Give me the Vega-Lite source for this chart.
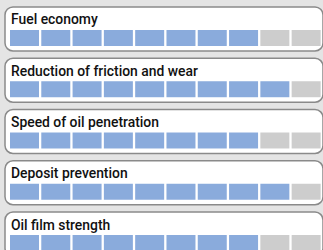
{
  "$schema": "https://vega.github.io/schema/vega-lite/v6.json",
  "width": 318,
  "height": 243,
  "autosize": {"type": "none"},
  "padding": {"left": 5, "top": 7, "right": 0, "bottom": 0},
  "background": "#e4e4e4",
  "datasets": {
    "metrics": [
      {"metric": "Fuel economy", "score": 8},
      {"metric": "Reduction of friction and wear", "score": 9},
      {"metric": "Speed of oil penetration", "score": 8},
      {"metric": "Deposit prevention", "score": 9},
      {"metric": "Oil film strength", "score": 8}
    ],
    "cells": [
      {"metric": "Fuel economy", "i": 1, "state": "on"},
      {"metric": "Fuel economy", "i": 2, "state": "on"},
      {"metric": "Fuel economy", "i": 3, "state": "on"},
      {"metric": "Fuel economy", "i": 4, "state": "on"},
      {"metric": "Fuel economy", "i": 5, "state": "on"},
      {"metric": "Fuel economy", "i": 6, "state": "on"},
      {"metric": "Fuel economy", "i": 7, "state": "on"},
      {"metric": "Fuel economy", "i": 8, "state": "on"},
      {"metric": "Fuel economy", "i": 9, "state": "off"},
      {"metric": "Fuel economy", "i": 10, "state": "off"},
      {"metric": "Reduction of friction and wear", "i": 1, "state": "on"},
      {"metric": "Reduction of friction and wear", "i": 2, "state": "on"},
      {"metric": "Reduction of friction and wear", "i": 3, "state": "on"},
      {"metric": "Reduction of friction and wear", "i": 4, "state": "on"},
      {"metric": "Reduction of friction and wear", "i": 5, "state": "on"},
      {"metric": "Reduction of friction and wear", "i": 6, "state": "on"},
      {"metric": "Reduction of friction and wear", "i": 7, "state": "on"},
      {"metric": "Reduction of friction and wear", "i": 8, "state": "on"},
      {"metric": "Reduction of friction and wear", "i": 9, "state": "on"},
      {"metric": "Reduction of friction and wear", "i": 10, "state": "off"},
      {"metric": "Speed of oil penetration", "i": 1, "state": "on"},
      {"metric": "Speed of oil penetration", "i": 2, "state": "on"},
      {"metric": "Speed of oil penetration", "i": 3, "state": "on"},
      {"metric": "Speed of oil penetration", "i": 4, "state": "on"},
      {"metric": "Speed of oil penetration", "i": 5, "state": "on"},
      {"metric": "Speed of oil penetration", "i": 6, "state": "on"},
      {"metric": "Speed of oil penetration", "i": 7, "state": "on"},
      {"metric": "Speed of oil penetration", "i": 8, "state": "on"},
      {"metric": "Speed of oil penetration", "i": 9, "state": "off"},
      {"metric": "Speed of oil penetration", "i": 10, "state": "off"},
      {"metric": "Deposit prevention", "i": 1, "state": "on"},
      {"metric": "Deposit prevention", "i": 2, "state": "on"},
      {"metric": "Deposit prevention", "i": 3, "state": "on"},
      {"metric": "Deposit prevention", "i": 4, "state": "on"},
      {"metric": "Deposit prevention", "i": 5, "state": "on"},
      {"metric": "Deposit prevention", "i": 6, "state": "on"},
      {"metric": "Deposit prevention", "i": 7, "state": "on"},
      {"metric": "Deposit prevention", "i": 8, "state": "on"},
      {"metric": "Deposit prevention", "i": 9, "state": "on"},
      {"metric": "Deposit prevention", "i": 10, "state": "off"},
      {"metric": "Oil film strength", "i": 1, "state": "on"},
      {"metric": "Oil film strength", "i": 2, "state": "on"},
      {"metric": "Oil film strength", "i": 3, "state": "on"},
      {"metric": "Oil film strength", "i": 4, "state": "on"},
      {"metric": "Oil film strength", "i": 5, "state": "on"},
      {"metric": "Oil film strength", "i": 6, "state": "on"},
      {"metric": "Oil film strength", "i": 7, "state": "on"},
      {"metric": "Oil film strength", "i": 8, "state": "on"},
      {"metric": "Oil film strength", "i": 9, "state": "off"},
      {"metric": "Oil film strength", "i": 10, "state": "off"}
    ]
  },
  "encoding": {
    "y": {
      "field": "metric",
      "type": "nominal",
      "axis": null,
      "scale": {
        "domain": ["Fuel economy", "Reduction of friction and wear", "Speed of oil penetration", "Deposit prevention", "Oil film strength"],
        "range": [0, 249],
        "paddingInner": 0.142,
        "paddingOuter": 0
      }
    }
  },
  "layer": [
    {
      "data": {"name": "metrics"},
      "mark": {"type": "rect", "fill": "white", "stroke": "#8a8a8a", "strokeWidth": 1.5, "cornerRadius": 8, "x2Offset": 20}
    },
    {
      "data": {"name": "cells"},
      "mark": {"type": "rect"},
      "encoding": {
        "x": {
          "field": "i",
          "type": "ordinal",
          "axis": null,
          "scale": {"paddingInner": 0.073, "paddingOuter": 0.117, "align": 0.68}
        },
        "yOffset": {
          "datum": "bar",
          "type": "nominal",
          "scale": {"domain": ["title", "bar"], "paddingInner": 0.111, "paddingOuter": 0.278}
        },
        "color": {
          "field": "state",
          "type": "nominal",
          "legend": null,
          "scale": {"domain": ["on", "off"], "range": ["#8aabdc", "#cdcdcd"]}
        }
      }
    },
    {
      "data": {"name": "metrics"},
      "mark": {"type": "text", "align": "left", "baseline": "middle", "font": "Roboto", "fontSize": 13.9, "fontWeight": 500, "color": "#111111", "dx": 1, "dy": 0.5},
      "encoding": {
        "x": {"datum": 1, "type": "ordinal", "bandPosition": 0},
        "yOffset": {"datum": "title", "type": "nominal"},
        "text": {"field": "metric"}
      }
    }
  ],
  "config": {"view": {"stroke": null}}
}
